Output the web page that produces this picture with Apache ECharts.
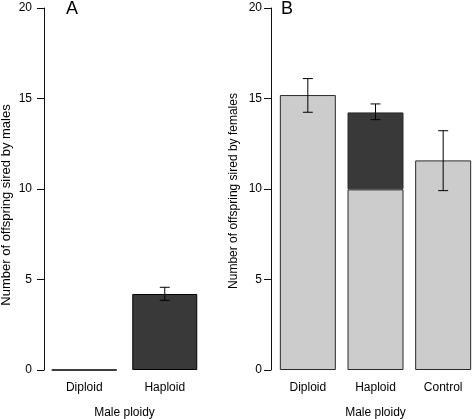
<!DOCTYPE html>
<html>
<head>
<meta charset="utf-8">
<script src="https://cdn.jsdelivr.net/npm/echarts@6/dist/echarts.min.js"></script>
<style>html,body{margin:0;padding:0;background:#fff;}#c{width:472px;height:419px;}</style>
</head>
<body>
<div id="c"></div>
<script>
// Panel A: offspring sired by males
var catsA = ['Diploid', 'Haploid'];
var valuesA = [0, 4.2];
var errLowA = [null, 3.85];
var errHighA = [null, 4.57];

// Panel B: offspring sired by females
var catsB = ['Diploid', 'Haploid', 'Control'];
var lightB = [15.19, 9.98, 11.58];
var darkB = [null, 4.25, null];
var errLowB = [14.24, 13.83, 9.91];
var errHighB = [16.1, 14.7, 13.22];

var yTicks = [0, 5, 10, 15, 20];

var FONT = "'Liberation Sans', Arial, Helvetica, sans-serif";
var DARK = '#393939';
var LIGHT = '#cccccc';
var EDGE = '#2a2a2a';

function errData(lo, hi) {
  var out = [];
  for (var i = 0; i < lo.length; i++) {
    if (lo[i] != null) out.push([i, lo[i], hi[i]]);
  }
  return out;
}

function errRender(params, api) {
  var x = api.value(0);
  var lo = api.coord([x, api.value(1)]);
  var hi = api.coord([x, api.value(2)]);
  var hw = 5;
  var st = { stroke: '#000', lineWidth: 1 };
  return {
    type: 'group',
    children: [
      { type: 'line', shape: { x1: lo[0], y1: lo[1], x2: hi[0], y2: hi[1] }, style: st },
      { type: 'line', shape: { x1: lo[0] - hw, y1: lo[1], x2: lo[0] + hw, y2: lo[1] }, style: st },
      { type: 'line', shape: { x1: hi[0] - hw, y1: hi[1], x2: hi[0] + hw, y2: hi[1] }, style: st }
    ]
  };
}

function yAxisCfg(gridIndex, name, nameSize, margin, offset, pad) {
  return {
    type: 'value', gridIndex: gridIndex, min: yTicks[0], max: yTicks[yTicks.length - 1], interval: 5,
    offset: offset,
    name: name, nameLocation: 'middle', nameGap: 31,
    nameTextStyle: { fontFamily: FONT, fontSize: nameSize, color: '#000', padding: pad },
    axisLine: { show: true, lineStyle: { color: '#111', width: 1 } },
    axisTick: { show: true, length: 7, lineStyle: { color: '#111' } },
    axisLabel: { fontFamily: FONT, fontSize: 12, color: '#000', margin: margin },
    splitLine: { show: false }
  };
}

function xAxisCfg(gridIndex, cats) {
  return {
    type: 'category', gridIndex: gridIndex, data: cats,
    name: 'Male ploidy', nameLocation: 'middle', nameGap: 37,
    nameTextStyle: { fontFamily: FONT, fontSize: 12, color: '#000' },
    axisLine: { show: false }, axisTick: { show: false },
    axisLabel: { fontFamily: FONT, fontSize: 12, color: '#000', margin: 12 }
  };
}

var chart = echarts.init(document.getElementById('c'), null, { renderer: 'canvas' });
chart.setOption({
  animation: false,
  backgroundColor: '#fff',
  title: [
    { text: 'A', left: 66, top: 0, padding: 0, textStyle: { fontFamily: FONT, fontSize: 18, fontWeight: 'normal', color: '#000' } },
    { text: 'B', left: 281, top: 0, padding: 0, textStyle: { fontFamily: FONT, fontSize: 18, fontWeight: 'normal', color: '#000' } }
  ],
  grid: [
    { left: 44, top: 8, width: 161, height: 362, containLabel: false, outerBoundsMode: 'none' },
    { left: 274, top: 8, width: 203, height: 362, containLabel: false, outerBoundsMode: 'none' }
  ],
  xAxis: [xAxisCfg(0, catsA), xAxisCfg(1, catsB)],
  yAxis: [
    yAxisCfg(0, 'Number of offspring sired by males', 13, 12, 0, [0, 32, 0, 0]),
    yAxisCfg(1, 'Number of offspring sired by females', 12, 9, 3, [0, 4, 0, 0])
  ],
  series: [
    {
      type: 'bar', xAxisIndex: 0, yAxisIndex: 0, data: valuesA, barWidth: 65,
      itemStyle: { color: DARK, borderColor: '#000', borderWidth: 1 }
    },
    {
      type: 'custom', xAxisIndex: 0, yAxisIndex: 0, data: errData(errLowA, errHighA),
      renderItem: errRender, z: 10
    },
    {
      type: 'bar', xAxisIndex: 1, yAxisIndex: 1, data: lightB, stack: 'b', barWidth: 56,
      itemStyle: { color: LIGHT, borderColor: EDGE, borderWidth: 1 }
    },
    {
      type: 'bar', xAxisIndex: 1, yAxisIndex: 1, data: darkB, stack: 'b', barWidth: 56,
      itemStyle: { color: DARK, borderColor: EDGE, borderWidth: 1 }
    },
    {
      type: 'custom', xAxisIndex: 1, yAxisIndex: 1, data: errData(errLowB, errHighB),
      renderItem: errRender, z: 10
    }
  ]
});
</script>
</body>
</html>
